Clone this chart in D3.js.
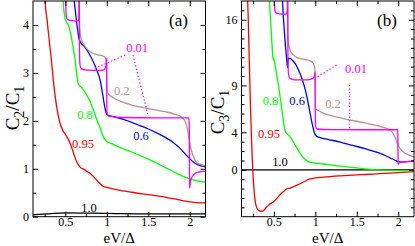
<!DOCTYPE html>
<html>
<head>
<meta charset="utf-8">
<script src="https://cdn.jsdelivr.net/npm/d3@7/dist/d3.min.js"></script>
<style>
  body { margin: 0; background: #fff; }
  text { font-family: "Liberation Serif", "Times New Roman", serif; }
</style>
</head>
<body>
<script>
// --- Data ---
var xTicks = [0.5, 1, 1.5, 2];
var xMinor = [0.25, 0.75, 1.25, 1.75];
var aYTicks = [0, 1, 2, 3, 4];
var aYMinor = [0.5, 1.5, 2.5, 3.5];
var bYTicks = [0, 4, 9, 16];
var bYMinor = [-4, -3, -2, -1, 1, 2, 3, 5, 6, 7, 8, 10, 11, 12, 13, 14, 15, 17];
var seriesNames = ["1.0", "0.95", "0.8", "0.6", "0.2", "0.01"];

// panel (a): C2/C1
var a100 = [[0.11, 0.04], [0.3, 0.06], [0.5, 0.08], [1.0, 0.07], [1.5, 0.06], [2.19, 0.06]];
var a095 = [[0.25, 4.7], [0.255, 4.52], [0.28, 4.1], [0.3, 3.77], [0.33, 3.3], [0.355, 2.85], [0.38, 2.48],
  [0.41, 2.15], [0.436, 1.95], [0.47, 1.8], [0.5, 1.72], [0.53, 1.63], [0.556, 1.54], [0.6, 1.32],
  [0.63, 1.17], [0.656, 1.085], [0.68, 1.03], [0.72, 0.99], [0.8, 0.9], [0.86, 0.8], [0.9, 0.72],
  [0.96, 0.63], [1.0, 0.61], [1.1, 0.57], [1.3, 0.51], [1.5, 0.46], [1.7, 0.41], [1.9, 0.34],
  [2.05, 0.3], [2.19, 0.29]];
var a080 = [[0.47, 4.6], [0.48, 4.35], [0.49, 4.2], [0.51, 4.08], [0.54, 3.98], [0.56, 3.85], [0.58, 3.67],
  [0.6, 3.47], [0.62, 3.25], [0.635, 3.0], [0.65, 2.82], [0.665, 2.74], [0.68, 2.72], [0.72, 2.64],
  [0.76, 2.53], [0.8, 2.4], [0.84, 2.22], [0.88, 2.02], [0.92, 1.85], [0.96, 1.66], [1.0, 1.57],
  [1.05, 1.53], [1.15, 1.45], [1.3, 1.35], [1.5, 1.2], [1.7, 1.03], [1.85, 0.9], [1.95, 0.82],
  [2.0, 0.79], [2.1, 0.74], [2.19, 0.72]];
var a060 = [[0.6, 4.6], [0.62, 4.3], [0.64, 4.0], [0.655, 3.82], [0.665, 3.71], [0.69, 3.62], [0.73, 3.55],
  [0.78, 3.42], [0.84, 3.22], [0.88, 3.05], [0.92, 2.85], [0.95, 2.55], [0.98, 2.25], [0.995, 2.15],
  [1.01, 2.12], [1.1, 2.08], [1.2, 2.03], [1.3, 1.97], [1.4, 1.9], [1.5, 1.83], [1.6, 1.75],
  [1.7, 1.66], [1.8, 1.55], [1.88, 1.43], [1.95, 1.3], [2.0, 1.21], [2.05, 1.13], [2.1, 1.08],
  [2.19, 1.04]];
var a020 = [[0.668, 4.8], [0.669, 4.2], [0.675, 3.9], [0.69, 3.72], [0.72, 3.6], [0.76, 3.5], [0.82, 3.42],
  [0.88, 3.38], [0.94, 3.36], [0.975, 3.33], [0.99, 3.25], [0.997, 3.1], [1.0, 2.7], [1.003, 2.6],
  [1.02, 2.56], [1.08, 2.48], [1.16, 2.41], [1.28, 2.34], [1.4, 2.29], [1.55, 2.24], [1.7, 2.19],
  [1.82, 2.14], [1.9, 2.08], [1.94, 2.0], [1.97, 1.85], [1.99, 1.65], [2.01, 1.45], [2.04, 1.27],
  [2.08, 1.14], [2.13, 1.09], [2.19, 1.06]];
var a001 = [[0.505, 4.8], [0.507, 4.3], [0.515, 4.16], [0.53, 4.11], [0.58, 4.09], [0.64, 4.08],
  [0.66, 4.1], [0.664, 4.3], [0.666, 4.8], [0.668, 4.8], [0.67, 3.6], [0.675, 3.2], [0.69, 3.09],
  [0.75, 3.06], [0.9, 3.05], [0.96, 3.06], [0.985, 3.12], [0.995, 3.2], [0.998, 3.3], [1.0, 2.3],
  [1.005, 2.14], [1.02, 2.1], [1.2, 2.07], [1.6, 2.06], [1.95, 2.06], [1.99, 2.06], [1.995, 1.8],
  [1.998, 0.65], [2.0, 0.6], [2.005, 0.7], [2.02, 0.8], [2.05, 0.88], [2.1, 0.93], [2.19, 0.95]];

// panel (b): C3/C1
var b100 = [[0.11, 0], [2.19, 0]];
var b095 = [[0.18, 19], [0.19, 16.5], [0.2, 13], [0.21, 9.5], [0.22, 6.2], [0.23, 3.5], [0.24, 1.2],
  [0.25, -0.6], [0.26, -2.0], [0.273, -3.2], [0.285, -3.8], [0.3, -4.15], [0.32, -4.35], [0.354, -4.42],
  [0.38, -4.3], [0.41, -4.0], [0.44, -3.75], [0.47, -3.55], [0.494, -3.43], [0.54, -3.0], [0.58, -2.6],
  [0.62, -2.3], [0.655, -2.05], [0.7, -1.95], [0.75, -1.75], [0.8, -1.55], [0.87, -1.25], [0.93, -1.0],
  [1.0, -0.87], [1.1, -0.78], [1.3, -0.65], [1.5, -0.55], [1.7, -0.45], [1.9, -0.35], [2.19, -0.2]];
var b080 = [[0.44, 19], [0.45, 17.5], [0.46, 16.0], [0.47, 14.6], [0.48, 13.0], [0.49, 11.9], [0.495, 11.7],
  [0.5, 11.85], [0.505, 11.6], [0.52, 10.9], [0.55, 9.3], [0.58, 7.5], [0.61, 5.6], [0.63, 4.4],
  [0.645, 3.95], [0.66, 3.85], [0.68, 3.7], [0.72, 3.2], [0.76, 2.6], [0.8, 2.0], [0.85, 1.35],
  [0.9, 0.95], [0.95, 0.78], [1.0, 0.72], [1.1, 0.62], [1.3, 0.4], [1.5, 0.2], [1.7, 0.02],
  [1.9, -0.05], [2.19, -0.08]];
var b060 = [[0.6, 19], [0.61, 17], [0.625, 15], [0.64, 13.2], [0.655, 11.8], [0.665, 10.9], [0.668, 11.3],
  [0.675, 11.75], [0.69, 11.9], [0.72, 11.7], [0.76, 11.3], [0.8, 10.6], [0.84, 9.7], [0.88, 8.5],
  [0.91, 7.3], [0.94, 5.9], [0.97, 4.6], [0.99, 3.9], [1.01, 3.6], [1.05, 3.45], [1.15, 3.25],
  [1.3, 2.95], [1.45, 2.6], [1.6, 2.25], [1.75, 1.85], [1.85, 1.5], [1.93, 1.15], [1.98, 0.95],
  [2.0, 0.85], [2.05, 0.85], [2.19, 0.95]];
var b020 = [[0.665, 19], [0.667, 15], [0.67, 14.0], [0.68, 13.3], [0.7, 12.7], [0.74, 12.2], [0.8, 11.9],
  [0.88, 11.75], [0.94, 11.6], [0.97, 11.4], [0.99, 11.0], [0.997, 10.3], [1.0, 7.0], [1.003, 6.5],
  [1.02, 6.4], [1.08, 6.1], [1.2, 5.75], [1.4, 5.35], [1.6, 5.0], [1.75, 4.7], [1.85, 4.45],
  [1.92, 4.1], [1.96, 3.5], [1.99, 2.8], [2.02, 2.3], [2.06, 1.9], [2.12, 1.6], [2.19, 1.4]];
var b001 = [[0.505, 19], [0.508, 17.5], [0.515, 16.9], [0.53, 16.7], [0.6, 16.6], [0.65, 16.6],
  [0.66, 16.9], [0.664, 17.6], [0.666, 19], [0.668, 19], [0.67, 12], [0.675, 10.4], [0.69, 9.8],
  [0.75, 9.6], [0.9, 9.6], [0.96, 9.7], [0.985, 9.9], [0.995, 10.2], [0.998, 10.4], [1.0, 5.5],
  [1.005, 4.6], [1.02, 4.35], [1.2, 4.28], [1.6, 4.27], [1.97, 4.27], [1.99, 4.3], [1.995, 3.8],
  [1.998, 0.8], [2.0, 0.6], [2.01, 0.75], [2.05, 0.85], [2.19, 0.9]];

var colors = {"1.0": "#000000", "0.95": "#ff0000", "0.8": "#00ff00",
              "0.6": "#0000ff", "0.2": "#bc8f8f", "0.01": "#ff00ff"};

window.onload = function() {
    var w = 415, h = 246;
    var svg = d3.select("body").append("svg")
        .attr("width", w)
        .attr("height", h)
        .style("background-color", "#fff");

    // shared plot box top/bottom
    var top = 1, bottom = 216.7;

    function drawPanel(opts) {
        var x = d3.scaleLinear().domain([0.11, 2.19]).range([opts.left, opts.right]);
        var y = d3.scaleLinear().domain(opts.yDomain).range([bottom, top]);
        var g = svg.append("g");

        g.append("clipPath").attr("id", opts.id)
            .append("rect")
            .attr("x", opts.left).attr("y", top)
            .attr("width", opts.right - opts.left).attr("height", bottom - top);

        // --- curves ---
        var line = d3.line()
            .x(d => x(d[0]))
            .y(d => y(d[1]))
            .curve(d3.curveMonotoneX);

        var curves = g.append("g").attr("clip-path", "url(#" + opts.id + ")");
        seriesNames.forEach(function(name, i) {
            curves.append("path")
                .datum(opts.series[i])
                .attr("d", line)
                .attr("fill", "none")
                .attr("stroke", colors[name])
                .attr("stroke-width", name == "1.0" ? 1.2 : 1.3);
        });

        // dotted pointer lines for 0.01
        opts.pointers.forEach(function(p) {
            g.append("line")
                .attr("x1", x(p[0])).attr("y1", y(p[1]))
                .attr("x2", x(p[2])).attr("y2", y(p[3]))
                .attr("stroke", colors["0.01"])
                .attr("stroke-width", 1.2)
                .attr("stroke-dasharray", "1.3,2.2");
        });

        // --- axes (ticks inside, mirrored) ---
        function axis(a, tr, vals, size, labels) {
            var ax = g.append("g").attr("transform", tr)
                .call(a.tickValues(vals).tickSize(size).tickPadding(labels ? 4 : 0)
                    .tickFormat(labels ? d3.format("") : ""));
            ax.select(".domain").remove();
            ax.selectAll("line").attr("stroke", "#000");
            ax.selectAll("text").attr("font-size", 12)
                .attr("font-family", "Liberation Serif").attr("fill", "#000");
            return ax;
        }
        var xb = axis(d3.axisBottom(x), "translate(0," + bottom + ")", xTicks, -5, true);
        xb.selectAll("text").attr("dy", "0.72em").attr("y", 0.5);
        axis(d3.axisBottom(x), "translate(0," + bottom + ")", xMinor, -3, false);
        axis(d3.axisTop(x), "translate(0," + top + ")", xTicks, -5, false);
        axis(d3.axisTop(x), "translate(0," + top + ")", xMinor, -3, false);
        axis(d3.axisLeft(y), "translate(" + opts.left + ",0)", opts.yTicks, -5, true);
        axis(d3.axisLeft(y), "translate(" + opts.left + ",0)", opts.yMinor, -3, false);
        axis(d3.axisRight(y), "translate(" + opts.right + ",0)", opts.yTicks, -5, false);
        axis(d3.axisRight(y), "translate(" + opts.right + ",0)", opts.yMinor, -3, false);

        g.append("rect")
            .attr("x", opts.left).attr("y", top)
            .attr("width", opts.right - opts.left).attr("height", bottom - top)
            .attr("fill", "none").attr("stroke", "#000").attr("stroke-width", 1);

        // --- curve labels ---
        opts.labels.forEach(function(l) {
            g.append("text")
                .attr("x", x(l[1])).attr("y", y(l[2]))
                .attr("text-anchor", "middle")
                .attr("font-size", 12.5)
                .attr("fill", colors[l[0]])
                .text(l[0]);
        });

        // panel tag
        g.append("text")
            .attr("x", opts.right - 27).attr("y", 26)
            .attr("text-anchor", "middle")
            .attr("font-size", 17)
            .text(opts.tag);

        // x title
        g.append("text")
            .attr("x", (opts.left + opts.right) / 2).attr("y", 242.5)
            .attr("text-anchor", "middle")
            .attr("font-size", 15)
            .text("eV/\u0394");

        // y title with subscripts
        var yt = g.append("text")
            .attr("transform", "translate(" + opts.titleX + "," + opts.titleY + ") rotate(-90)")
            .attr("text-anchor", "middle")
            .attr("font-size", 19);
        yt.append("tspan").text("C");
        yt.append("tspan").attr("font-size", 14).attr("dy", 5).text(opts.sub);
        yt.append("tspan").attr("dy", -5).text("/C");
        yt.append("tspan").attr("font-size", 14).attr("dy", 5).text("1");
    }

    drawPanel({
        id: "clipA", left: 33, right: 205.5, yDomain: [0, 4.5],
        yTicks: aYTicks, yMinor: aYMinor, tag: "(a)", sub: "2",
        titleX: 19, titleY: 108,
        series: [a100, a095, a080, a060, a020, a001],
        labels: [["0.01", 1.365, 3.43], ["0.2", 1.18, 2.54], ["0.8", 0.737, 2.04],
                 ["0.6", 1.413, 1.6], ["0.95", 0.713, 1.43], ["1.0", 0.785, 0.1]],
        pointers: [[1.22, 3.37, 0.858, 3.10], [1.316, 3.37, 1.497, 2.12]]
    });

    drawPanel({
        id: "clipB", left: 241.5, right: 414, yDomain: [-5, 18],
        yTicks: bYTicks, yMinor: bYMinor, tag: "(b)", sub: "3",
        titleX: 224, titleY: 112,
        series: [b100, b095, b080, b060, b020, b001],
        labels: [["0.01", 1.491, 10.3], ["0.2", 1.214, 6.6], ["0.8", 0.46, 6.9],
                 ["0.6", 0.78, 6.9], ["0.95", 0.442, 3.4], ["1.0", 0.574, 0.4]],
        pointers: [[1.256, 11.17, 0.997, 9.75], [1.413, 9.04, 1.413, 4.42]]
    });
};
</script>
</body>
</html>
